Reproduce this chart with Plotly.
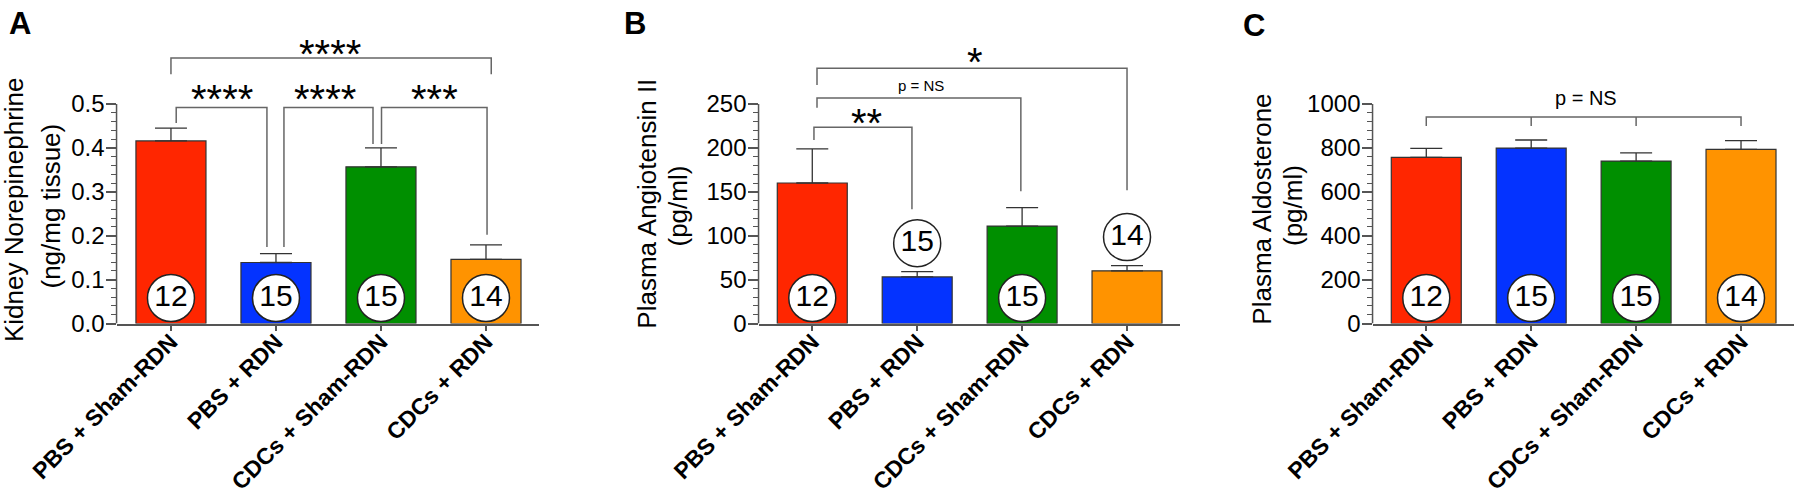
import plotly.graph_objects as go

# ---------------- data ----------------
categories = ["PBS + Sham-RDN", "PBS + RDN", "CDCs + Sham-RDN", "CDCs + RDN"]
n_per_group = [12, 15, 15, 14]
bar_colors = ["#FF2600", "#0433FF", "#008F00", "#FF9300"]

ne_mean = [0.416, 0.139, 0.357, 0.146]      # Kidney norepinephrine (ng/mg tissue)
ne_sem = [0.029, 0.020, 0.043, 0.033]
angii_mean = [160, 53, 111, 60]              # Plasma angiotensin II (pg/ml)
angii_sem = [39, 6, 21, 6]
aldo_mean = [757, 799, 740, 793]             # Plasma aldosterone (pg/ml)
aldo_sem = [41, 37, 37, 40]

ne_yticks = [0, 0.1, 0.2, 0.3, 0.4, 0.5]
angii_yticks = [0, 50, 100, 150, 200, 250]
aldo_yticks = [0, 200, 400, 600, 800, 1000]

# ---------------- layout constants ----------------
W, H = 1800, 496
FONT = "Liberation Sans, Arial, Helvetica, sans-serif"
AXC = "#555555"
Y0_PX = 323.5        # baseline pixel row
YTOP_PX = 104.0      # pixel row of top tick
PLOT_TOP_PX = 34.0   # top of (invisible) plot area
CIRCLE_PX = 25.5     # circle centre above baseline
ABOVE_PX = 28.5      # circle centre above error cap

panels = [
    dict(letter="A", letter_xy=(20, 24), mean=ne_mean, sem=ne_sem, yticks=ne_yticks,
         fmt="{:.1f}", left=117.3, right=538.5, xr=[-0.511, 3.5],
         title=["Kidney Norepinephrine", "(ng/mg tissue)"], title_x=[14, 50.5], title_y=[210, 206],
         n_pos=["in", "in", "in", "in"],
         brackets=[
             dict(path=[[(0, 0.568), (0, 0.605), (3.05, 0.605), (3.05, 0.568)]],
                  text="****", tx=1.514, ty=0.637, size=40, star=True),
             dict(path=[[(0.05, 0.457), (0.05, 0.492), (0.914, 0.492), (0.914, 0.174)]],
                  text="****", tx=0.486, ty=0.534, size=40, star=True),
             dict(path=[[(1.076, 0.174), (1.076, 0.492), (1.924, 0.492), (1.924, 0.409)]],
                  text="****", tx=1.467, ty=0.534, size=40, star=True),
             dict(path=[[(2.005, 0.409), (2.005, 0.492), (3.01, 0.492), (3.01, 0.202)]],
                  text="***", tx=2.514, ty=0.534, size=40, star=True),
         ]),
    dict(letter="B", letter_xy=(635, 24), mean=angii_mean, sem=angii_sem, yticks=angii_yticks,
         fmt="{:.0f}", left=759.3, right=1180, xr=[-0.505, 3.505],
         title=["Plasma Angiotensin II", "(pg/ml)"], title_x=[646.7, 677.5], title_y=[204, 206],
         n_pos=["in", "above", "in", "above"],
         brackets=[
             dict(path=[[(0.016, 208.9), (0.016, 223.4), (0.95, 223.4), (0.95, 130)]],
                  text="**", tx=0.52, ty=239.4, size=40, star=True),
             dict(path=[[(0.045, 245.8), (0.045, 256.8), (1.988, 256.8), (1.988, 150.7)]],
                  text="p = NS", tx=1.04, ty=270.9, size=15, star=False),
             dict(path=[[(0.045, 271.7), (0.045, 290.8), (3.0, 290.8), (3.0, 151.8)]],
                  text="*", tx=1.555, ty=309.7, size=40, star=True),
         ]),
    dict(letter="C", letter_xy=(1254, 25), mean=aldo_mean, sem=aldo_sem, yticks=aldo_yticks,
         fmt="{:.0f}", left=1373.3, right=1794, xr=[-0.505, 3.505],
         title=["Plasma Aldosterone", "(pg/ml)"], title_x=[1261.7, 1293], title_y=[209, 206],
         n_pos=["in", "in", "in", "in"],
         brackets=[
             dict(path=[[(0, 900), (0, 940.7), (3, 940.7), (3, 900)],
                        [(1, 940.7), (1, 900)], [(2, 940.7), (2, 900)]],
                  text="p = NS", tx=1.518, ty=1026, size=20, star=False),
         ]),
]

fig = go.Figure()
shapes = []
annotations = []
layout_axes = {}

for i, p in enumerate(panels):
    k = "" if i == 0 else str(i + 1)
    xname, yname = "x" + k, "y" + k
    ymax_tick = p["yticks"][-1]
    upp = ymax_tick / (Y0_PX - YTOP_PX)         # data units per pixel
    ytop = (Y0_PX - PLOT_TOP_PX) * upp
    xs = list(range(len(categories)))

    fig.add_trace(go.Bar(
        x=xs, y=p["mean"], width=0.667, xaxis=xname, yaxis=yname, showlegend=False,
        marker=dict(color=bar_colors, line=dict(color="#333333", width=1.2)),
        error_y=dict(type="data", array=p["sem"], arrayminus=[0] * len(xs), symmetric=False,
                     color="#333333", thickness=1.3, width=16),
        hoverinfo="skip"))

    cy = []
    for m, s, pos in zip(p["mean"], p["sem"], p["n_pos"]):
        if pos == "in":
            cy.append(CIRCLE_PX * upp)
        else:
            cy.append(m + s + ABOVE_PX * upp)
    fig.add_trace(go.Scatter(
        x=xs, y=cy, xaxis=xname, yaxis=yname, mode="markers+text", showlegend=False,
        text=[str(n) for n in n_per_group], textposition="middle center",
        textfont=dict(family=FONT, size=30, color="black"),
        marker=dict(size=47, color="white", line=dict(color="#222222", width=1.5)),
        cliponaxis=False, hoverinfo="skip"))

    step = p["yticks"][1] - p["yticks"][0]
    minor_vals = [j * step / 5 for j in range(int(round(ymax_tick / step * 5)) + 1) if j % 5 != 0]

    layout_axes["xaxis" + k] = dict(
        domain=[p["left"] / W, p["right"] / W], range=p["xr"], anchor=yname, automargin=False,
        tickmode="array", tickvals=xs, ticktext=categories, tickangle=-45,
        tickfont=dict(family=FONT, size=23, color="black", weight="bold"),
        ticks="outside", ticklen=6, tickwidth=1.5, tickcolor=AXC, ticklabelstandoff=-12,
        showline=True, linecolor=AXC, linewidth=1.5, showgrid=False, zeroline=False)
    layout_axes["yaxis" + k] = dict(
        domain=[(H - Y0_PX) / H, (H - PLOT_TOP_PX) / H], range=[0, ytop], anchor=xname,
        automargin=False,
        tickmode="array", tickvals=p["yticks"], ticktext=[p["fmt"].format(v) for v in p["yticks"]],
        tickfont=dict(family=FONT, size=24, color="black"),
        ticks="outside", ticklen=10, tickwidth=1.5, tickcolor=AXC, ticklabelstandoff=-3,
        minor=dict(tickmode="array", tickvals=minor_vals, ticks="outside", ticklen=5,
                   tickwidth=1.2, tickcolor=AXC, showgrid=False),
        showline=False, showgrid=False, zeroline=False)

    # y axis line only up to the top tick
    xl = (p["left"] - 0.75) / W
    shapes.append(dict(type="line", xref="paper", yref=yname, x0=xl, x1=xl, y0=0, y1=ymax_tick,
                       line=dict(color=AXC, width=1.5)))

    # significance brackets
    for b in p["brackets"]:
        path = ""
        for seg in b["path"]:
            path += "M" + " L".join(f"{x},{y}" for x, y in seg) + " "
        shapes.append(dict(type="path", xref=xname, yref=yname, path=path.strip(),
                           line=dict(color="#666666", width=1.5)))
        annotations.append(dict(
            x=b["tx"], y=b["ty"], xref=xname, yref=yname, text=b["text"], showarrow=False,
            xanchor="center", yanchor="middle", yshift=(-0.25 * b["size"]) if b["star"] else 0,
            font=dict(family=FONT, size=b["size"], color="black")))

    # axis titles (one annotation per line)
    for line, tx, ty in zip(p["title"], p["title_x"], p["title_y"]):
        annotations.append(dict(
            x=tx / W, y=1 - ty / H, xref="paper", yref="paper", text=line, showarrow=False,
            textangle=-90, xanchor="center", yanchor="middle",
            font=dict(family=FONT, size=26, color="black")))

    # panel letter
    lx, ly = p["letter_xy"]
    annotations.append(dict(
        x=lx / W, y=1 - ly / H, xref="paper", yref="paper", text="<b>" + p["letter"] + "</b>",
        showarrow=False, xanchor="center", yanchor="middle",
        font=dict(family=FONT, size=31, color="black")))

fig.update_layout(
    width=W, height=H, margin=dict(l=0, r=0, t=0, b=0, autoexpand=False),
    paper_bgcolor="white", plot_bgcolor="white", showlegend=False,
    font=dict(family=FONT, color="black"),
    shapes=shapes, annotations=annotations, **layout_axes)

fig.write_html("out.html", config={"displayModeBar": False},
               post_script="document.body.style.margin='0';document.body.style.overflow='hidden';")
